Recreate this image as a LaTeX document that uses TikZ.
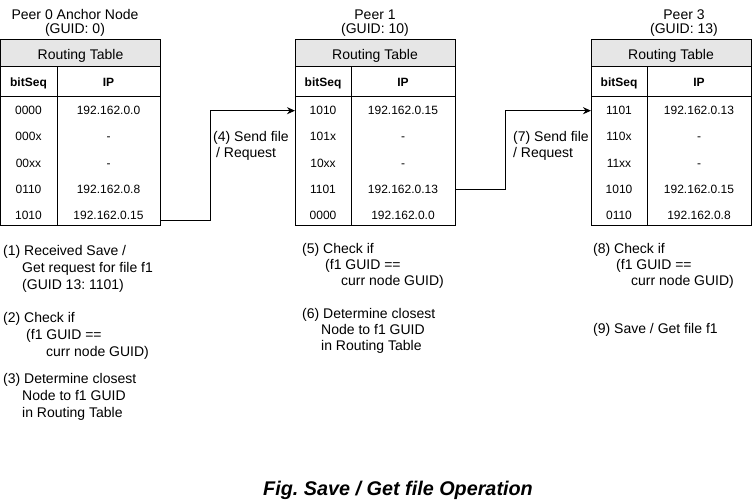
\documentclass[tikz,border=0pt]{standalone}
\usepackage{fontspec}
\setmainfont{Liberation Sans}
\usetikzlibrary{arrows.meta}
\definecolor{hdrgrey}{HTML}{E6E6E6}
\frenchspacing
\tikzset{
  gridline/.style={line width=1pt},
  hdrbox/.style={draw, line width=1pt, fill=hdrgrey, anchor=north west, minimum width=160pt, minimum height=26.7pt, inner sep=0pt, outer sep=0pt},
  bodybox/.style={draw, line width=1pt, anchor=north west, minimum width=160pt, minimum height=159.3pt, inner sep=0pt, outer sep=0pt},
  hdrtxt/.style={anchor=base, inner sep=0pt, font=\fontsize{14}{17}\selectfont},
  headcell/.style={anchor=base, inner sep=0pt, font=\fontsize{12}{14}\selectfont\bfseries},
  cell/.style={anchor=base, inner sep=0pt, font=\fontsize{12}{14}\selectfont},
  note/.style={anchor=base west, inner sep=0pt, font=\fontsize{14}{17}\selectfont},
  peertitle/.style={anchor=base, inner sep=0pt, font=\fontsize{14}{17}\selectfont},
  flow/.style={line width=1pt, -{Stealth[length=8pt,width=7pt]}},
}
\newcommand\rtable[3]{%
  \node[hdrbox] (#1h) at (#2,40) {};
  \node[hdrtxt] (#1ht) at (#2+80,59.5) {Routing Table};
  \node[bodybox] (#1b) at (#2,66.7) {};
  \draw[gridline] (#2+56.5,66.7) -- (#2+56.5,226);
  \draw[gridline] (#2,97) -- (#2+160,97);
  \node[headcell] (#1c1) at (#2+28,87) {bitSeq};
  \node[headcell] (#1c2) at (#2+108,87) {IP};
  \foreach \b/\ip [count=\i] in {#3} {
    \pgfmathsetmacro\yy{114.5+26.3*(\i-1)}
    \node[cell] (#1a\i) at (#2+28,\yy) {\b};
    \node[cell] (#1p\i) at (#2+108,\yy) {\ip};
  }%
}
\begin{document}
\begin{tikzpicture}[x=1pt,y=-1pt]
  \fill[white] (0,0) rectangle (752,502);
  \useasboundingbox (0,0) rectangle (752,502);

  % titles
  \node[peertitle] (p0a) at (75,19.5) {Peer 0 Anchor Node};
  \node[peertitle] (p0b) at (75,34) {(GUID: 0)};
  \node[peertitle] (p1a) at (375,19.5) {Peer 1};
  \node[peertitle] (p1b) at (375,34) {(GUID: 10)};
  \node[peertitle] (p3a) at (684,19.5) {Peer 3};
  \node[peertitle] (p3b) at (684,34) {(GUID: 13)};

  % tables
  \rtable{t1}{0.5}{0000/192.162.0.0, 000x/-, 00xx/-, 0110/192.162.0.8, 1010/192.162.0.15}
  \rtable{t2}{295}{1010/192.162.0.15, 101x/-, 10xx/-, 1101/192.162.0.13, 0000/192.162.0.0}
  \rtable{t3}{591}{1101/192.162.0.13, 110x/-, 11xx/-, 1010/192.162.0.15, 0110/192.162.0.8}

  % connectors
  \coordinate (ya) at (0,220.7);
  \coordinate (yb) at (0,110.7);
  \coordinate (yc) at (0,189.3);
  \coordinate (k1) at (210,110.7);
  \coordinate (k2) at (505,110.7);
  \draw[flow] (t1b.east |- ya) -| (k1) -- (t2b.west |- yb);
  \draw[flow] (t2b.east |- yc) -| (k2) -- (t3b.west |- yb);

  \node[note] (l4a) at (213,142) {(4) Send file};
  \node[note] (l4b) at (216,157.5) {/ Request};
  \node[note] (l7a) at (513,142) {(7) Send file};
  \node[note] (l7b) at (513,157.5) {/ Request};

  % notes under Peer 0
  \node[note] (n1a) at (3,255.5) {(1) Received Save /};
  \node[note] (n1b) at (22,272.5) {Get request for file f1};
  \node[note] (n1c) at (22,289.5) {(GUID 13: 1101)};
  \node[note] (n2a) at (3,323) {(2) Check if};
  \node[note] (n2b) at (26,339.5) {(f1 GUID ==};
  \node[note] (n2c) at (46,356) {curr node GUID)};
  \node[note] (n3a) at (3,384) {(3) Determine closest};
  \node[note] (n3b) at (22,400.5) {Node to f1 GUID};
  \node[note] (n3c) at (22,417) {in Routing Table};

  % notes under Peer 1
  \node[note] (n5a) at (302,254) {(5) Check if};
  \node[note] (n5b) at (325,270) {(f1 GUID ==};
  \node[note] (n5c) at (341,286) {curr node GUID)};
  \node[note] (n6a) at (302,319) {(6) Determine closest};
  \node[note] (n6b) at (321,335) {Node to f1 GUID};
  \node[note] (n6c) at (321,351) {in Routing Table};

  % notes under Peer 3
  \node[note] (n8a) at (593,254) {(8) Check if};
  \node[note] (n8b) at (616,270) {(f1 GUID ==};
  \node[note] (n8c) at (631,286) {curr node GUID)};
  \node[note] (n9a) at (593,334) {(9) Save / Get file f1};

  % caption
  \node[anchor=base, inner sep=0pt, font=\fontsize{19.8}{23}\selectfont\bfseries\itshape] (cap) at (398,495.5) {Fig. Save / Get file Operation};
\end{tikzpicture}
\end{document}
